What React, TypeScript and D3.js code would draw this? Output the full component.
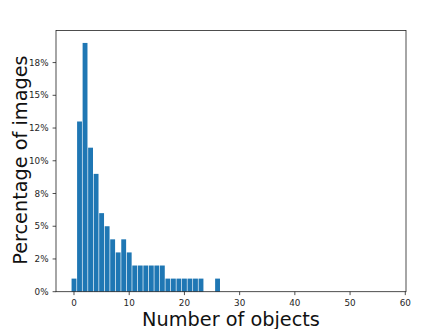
import * as d3 from "d3";

const WIDTH = 443;
const HEIGHT = 329;

// number of objects per image -> share of images (%)
const objectCounts = [
  0, 1, 2, 3, 4, 5, 6, 7, 8, 9, 10, 11, 12, 13, 14, 15, 16, 17, 18, 19, 20, 21, 22, 23, 26,
];
const imageShares = [
  1, 13, 19, 11, 9, 6, 5, 4, 3, 4, 3, 2, 2, 2, 2, 2, 2, 1, 1, 1, 1, 1, 1, 1, 1,
];

const xTicks = [0, 10, 20, 30, 40, 50, 60];
const yTicks = [0, 2.5, 5, 7.5, 10, 12.5, 15, 17.5];
const yTickLabels = ["0%", "2%", "5%", "8%", "10%", "12%", "15%", "18%"];

const margin = { left: 56, right: 37, top: 30.5, bottom: 37.3 };
const FONT = "DejaVu Sans, sans-serif";

export default function App() {
  const x = d3
    .scaleLinear()
    .domain([-3.26, 60.13])
    .range([margin.left, WIDTH - margin.right]);

  const y = d3
    .scaleLinear()
    .domain([0, d3.max(imageShares)! * 1.05])
    .range([HEIGHT - margin.bottom, margin.top]);

  const barW = 0.88;
  const x0 = margin.left;
  const x1 = WIDTH - margin.right;
  const y0 = HEIGHT - margin.bottom;
  const y1 = margin.top;

  return (
    <svg
      width={WIDTH}
      height={HEIGHT}
      style={{ position: "fixed", left: 0, top: 0, background: "#fff" }}
      fontFamily={FONT}
    >
      {/* bars */}
      {objectCounts.map((c, i) => (
        <rect
          key={c}
          x={x(c - barW / 2)}
          width={x(barW) - x(0)}
          y={y(imageShares[i])}
          height={y(0) - y(imageShares[i])}
          fill="#1f77b4"
        />
      ))}

      {/* frame */}
      <rect
        x={x0}
        y={y1}
        width={x1 - x0}
        height={y0 - y1}
        fill="none"
        stroke="#222"
        strokeWidth={0.8}
      />

      {/* x axis ticks */}
      {xTicks.map((t) => (
        <g key={t} transform={`translate(${x(t)},${y0})`}>
          <line y2={3.4} stroke="#222" strokeWidth={0.8} />
          <text y={14.8} textAnchor="middle" fontSize={8.8} fill="#262626">
            {t}
          </text>
        </g>
      ))}

      {/* y axis ticks */}
      {yTicks.map((t, i) => (
        <g key={t} transform={`translate(${x0},${y(t)})`}>
          <line x2={-3.4} stroke="#222" strokeWidth={0.8} />
          <text
            x={-7.5}
            dy="0.35em"
            textAnchor="end"
            fontSize={8.8}
            fill="#262626"
          >
            {yTickLabels[i]}
          </text>
        </g>
      ))}

      <text
        x={(x0 + x1) / 2}
        y={326}
        textAnchor="middle"
        fontSize={19.3}
        fill="#111"
      >
        Number of objects
      </text>
      <text
        transform={`translate(26.5,${(y0 + y1) / 2 - 1}) rotate(-90)`}
        textAnchor="middle"
        fontSize={19.3}
        fill="#111"
      >
        Percentage of images
      </text>
    </svg>
  );
}
